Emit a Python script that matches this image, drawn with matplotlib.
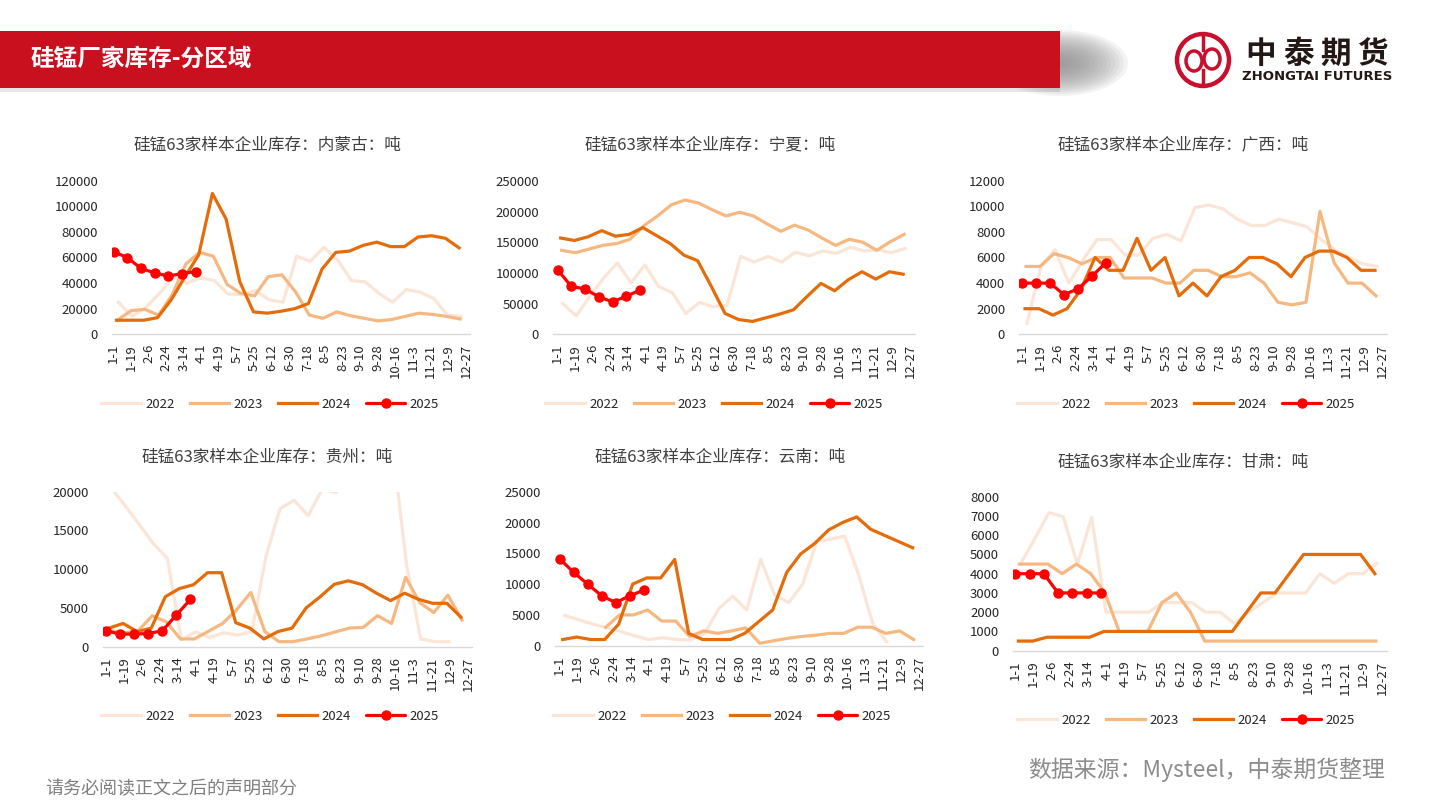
import numpy as np
import matplotlib
matplotlib.use('Agg')
import matplotlib.pyplot as plt
from matplotlib.patches import Rectangle, Ellipse, Circle
from matplotlib.lines import Line2D

plt.rcParams['font.family'] = ['Noto Sans CJK SC', 'DejaVu Sans']

W, H = 1440, 810
nan = np.nan

# ---------------- data ----------------
tick_labels = ['1-1', '1-19', '2-6', '2-24', '3-14', '4-1', '4-19', '5-7', '5-25', '6-12',
               '6-30', '7-18', '8-5', '8-23', '9-10', '9-28', '10-16', '11-3', '11-21',
               '12-9', '12-27']
tick_days = [18 * i for i in range(len(tick_labels))]   # day of year offset of each label

years = ['2022', '2023', '2024', '2025']
start_day = {'2022': 5, '2023': 4, '2024': 3, '2025': 0}  # first sample day of each year
step_days = 14                                            # biweekly samples

nmg_2022 = [25000, 14000, 21000, 32000, 45000, 40000, 44000, 42000, 31500, 31000, 34000, 27000, 25000,
            61000, 57000, 68000, 58000, 42000, 41000, 32000, 25000, 35000, 33000, 28000, 15000, 14000]
nmg_2023 = [11000, 18500, 19500, 15000, 31000, 55000, 64000, 61000, 39000, 32000, 30000, 45000, 46500,
            33000, 15000, 12500, 17500, 14500, 12500, 10500, 11500, 14000, 16500, 15500, 14000, 12000]
nmg_2024 = [11000, 11000, 11000, 13000, 27000, 45000, 62000, 110000, 90000, 41000, 17500, 16500, 18000,
            20000, 24000, 51000, 64000, 65000, 69500, 72000, 68500, 68500, 76000, 77000, 75000, 67500]
nmg_2025 = [64500, 60000, 51500, 48000, 45500, 47500, 49000]

nx_2022 = [50000, 30000, 62000, 92000, 116000, 84000, 113000, 78000, 68000, 34000, 52000, 45000, 47000,
           127000, 118000, 127000, 118000, 134000, 128000, 136000, 132000, 142000, 136000, 138000, 133000, 140000]
nx_2023 = [137000, 133000, 139000, 145000, 148000, 155000, 177000, 193000, 211000, 219000, 214000, 203000, 193000,
           199000, 193000, 180000, 168000, 178000, 170000, 157000, 145000, 155000, 150000, 137000, 151000, 163000]
nx_2024 = [157000, 153000, 159000, 169000, 160000, 163000, 174000, 161000, 148000, 129000, 120000, 78000, 34000,
           24000, 21000, 27000, 33000, 40000, 62000, 83000, 71000, 89000, 102000, 90000, 102000, 98000]
nx_2025 = [105000, 78000, 74000, 61000, 53000, 62000, 72000]

gx_2022 = [850, 5300, 6600, 4000, 5800, 7400, 7400, 6200, 6200, 7500, 7800, 7300, 9900,
           10100, 9800, 9000, 8500, 8500, 9000, 8700, 8400, 7400, 6600, 6000, 5500, 5300]
gx_2023 = [5300, 5300, 6300, 6000, 5500, 6000, 6000, 4400, 4400, 4400, 4000, 4000, 5000,
           5000, 4500, 4500, 4800, 4000, 2500, 2300, 2500, 9600, 5600, 4000, 4000, 3000]
gx_2024 = [2000, 2000, 1500, 2000, 3500, 6000, 5000, 5000, 7500, 5000, 6000, 3000, 4000,
           3000, 4500, 5000, 6000, 6000, 5500, 4500, 6000, 6500, 6500, 6000, 5000, 5000]
gx_2025 = [4000, 4000, 4000, 3100, 3550, 4550, 5600]

gz_2022 = [20500, 18200, 15800, 13300, 11400, 900, 1900, 1200, 1800, 1500, 1950, 11600, 17800,
           18900, 16900, 20300, 19900, 25000, 27000, 26000, 25700, 10500, 1000, 650, 650, nan]
gz_2023 = [2050, 1800, 2050, 4000, 3200, 1000, 1000, 2000, 3000, 4800, 7000, 1950, 650,
           650, 1000, 1400, 1900, 2400, 2500, 4000, 3000, 8950, 5700, 4400, 6650, 3450]
gz_2024 = [2400, 3000, 1950, 2400, 6450, 7500, 8000, 9550, 9550, 3100, 2400, 1000, 1950,
           2400, 5000, 6450, 8050, 8500, 8000, 6900, 5950, 6900, 6100, 5600, 5600, 3800]
gz_2025 = [2050, 1630, 1630, 1700, 2050, 4100, 6100]

yn_2022 = [4900, 4200, 3500, 2900, 2300, 1600, 1000, 1300, 1000, 920, 2000, 6000, 8060,
           5800, 14000, 8200, 7000, 10000, 16900, 17300, 17800, 11500, 3600, 650, nan, nan]
yn_2023 = [nan, nan, nan, 3000, 5000, 5000, 5800, 4000, 4000, 1500, 2400, 2000, 2400,
           2900, 400, 800, 1200, 1500, 1700, 2000, 2000, 3000, 3000, 2000, 2400, 1000]
yn_2024 = [1000, 1400, 1000, 1000, 3500, 10000, 11000, 11000, 14000, 2000, 1000, 1000, 1000,
           2000, 3900, 5800, 11900, 14900, 16600, 18800, 20000, 20900, 18900, 17900, 16900, 15900]
yn_2025 = [14100, 11900, 10000, 8100, 7000, 8100, 9000]

gs_2022 = [4500, 5800, 7170, 6960, 4500, 6930, 2000, 2000, 2000, 2000, 2500, 2500, 2500,
           2000, 2000, 1420, 2000, 2500, 3000, 3000, 3000, 4000, 3500, 4000, 4000, 4540]
gs_2023 = [4500, 4500, 4500, 4000, 4500, 4000, 3000, 1000, 1000, 1000, 2500, 3000, 2000,
           500, 500, 500, 500, 500, 500, 500, 500, 500, 500, 500, 500, 500]
gs_2024 = [500, 500, 700, 700, 700, 700, 1000, 1000, 1000, 1000, 1000, 1000, 1000,
           1000, 1000, 1000, 2000, 3000, 3000, 4000, 5000, 5000, 5000, 5000, 5000, 4000]
gs_2025 = [4000, 4000, 4000, 3000, 3000, 3000, 3000]

titles = ['硅锰63家样本企业库存：内蒙古：吨', '硅锰63家样本企业库存：宁夏：吨', '硅锰63家样本企业库存：广西：吨',
          '硅锰63家样本企业库存：贵州：吨', '硅锰63家样本企业库存：云南：吨', '硅锰63家样本企业库存：甘肃：吨']
region_data = [
    [nmg_2022, nmg_2023, nmg_2024, nmg_2025],
    [nx_2022, nx_2023, nx_2024, nx_2025],
    [gx_2022, gx_2023, gx_2024, gx_2025],
    [gz_2022, gz_2023, gz_2024, gz_2025],
    [yn_2022, yn_2023, yn_2024, yn_2025],
    [gs_2022, gs_2023, gs_2024, gs_2025],
]
y_max = [120000, 250000, 12000, 20000, 25000, 8000]
y_step = [20000, 50000, 2000, 5000, 5000, 1000]

# ---------------- styles / layout (pixels) ----------------
colors = {'2022': '#FBE5D6', '2023': '#F6B880', '2024': '#E46C0A', '2025': '#FF0000'}
# (axis left, axis right, x of 1-1, x of 12-27, y of 0, y of max, title cx, title cy, legend cx, legend cy)
geo = [
    (112, 470, 113.5, 466, 334.3, 180.7, 267, 145, 270, 404),
    (553, 915, 557.7, 910, 334.3, 181.0, 710, 145, 714, 404),
    (1019, 1387, 1022, 1382, 334.3, 180.7, 1183, 145, 1186, 404),
    (103, 472, 106, 468, 646.7, 491.7, 267, 457, 270, 716),
    (555, 923, 559.7, 919.7, 645.7, 491.7, 720, 457, 722, 716),
    (1013, 1387, 1015.3, 1382, 650.7, 496.7, 1183, 462, 1186, 720),
]

fig = plt.figure(figsize=(W / 100, H / 100), dpi=100)
fig.patch.set_facecolor('white')

# background overlay in pixel coordinates
bg = fig.add_axes([0, 0, 1, 1], zorder=-5)
bg.set_xlim(0, W)
bg.set_ylim(H, 0)
bg.axis('off')

# header shadow + band
bg.add_patch(Rectangle((0, 86), 1060, 6, color='#E6E6E6', lw=0))
for i in range(16):
    s = 1 - i / 16
    bg.add_patch(Ellipse((1060, 63), 136 * s, 66 * s, color='#8C8C8C', alpha=0.10, lw=0))
bg.add_patch(Rectangle((0, 31), 1060, 57, color='#C8101F', lw=0))
bg.text(30, 59, '硅锰厂家库存-分区域', color='white', fontsize=17, fontweight='bold',
        ha='left', va='center')

# logo
red = '#C8102E'
bg.add_patch(Circle((1203, 60), 26, fill=False, ec=red, lw=3.2))
bg.plot([1203, 1203], [35, 50], color=red, lw=2.5)
bg.plot([1203, 1203], [70, 85], color=red, lw=2.5)
bg.add_patch(Ellipse((1194, 61), 16, 20, fill=False, ec=red, lw=2.5))
bg.add_patch(Ellipse((1212, 59), 16, 20, fill=False, ec=red, lw=2.5))
for ch, cx in zip('中泰期货', [1261, 1298, 1336, 1373]):
    bg.text(cx, 54, ch, color='#231815', fontsize=22, fontweight='bold', ha='center', va='center')
bg.text(1317, 77, 'ZHONGTAI FUTURES', color='#231815', fontsize=9.5, fontweight='bold',
        ha='center', va='center', family='DejaVu Sans')

# footer
bg.text(45, 789, '请务必阅读正文之后的声明部分', color='#7F7F7F', fontsize=13, ha='left', va='center')
bg.text(1385, 770, '数据来源：Mysteel，中泰期货整理', color='#8C8C8C', fontsize=16.5, ha='right', va='center')

for k in range(6):
    L, R, x11, x1227, y0, yt, tcx, tcy, lcx, lcy = geo[k]
    ax = fig.add_axes([L / W, 1 - y0 / H, (R - L) / W, (y0 - yt) / H])
    ppd = (x1227 - x11) / 360.0
    ax.set_xlim((L - x11) / ppd, (R - x11) / ppd)
    ax.set_ylim(0, y_max[k])
    ax.patch.set_alpha(0)
    handles = []
    for j, yr in enumerate(years):
        vals = region_data[k][j]
        days = [start_day[yr] + step_days * i for i in range(len(vals))]
        if yr == '2025':
            h, = ax.plot(days, vals, color=colors[yr], lw=2.3, marker='o', markersize=6.5,
                         zorder=5, solid_capstyle='round')
        else:
            h, = ax.plot(days, vals, color=colors[yr], lw=2.3, zorder=2 + j)
        handles.append(h)
    ax.set_xticks(tick_days)
    ax.set_xticklabels(tick_labels, rotation=90, fontsize=9.5, color='#262626')
    yt_vals = list(range(0, y_max[k] + 1, y_step[k]))
    ax.set_yticks(yt_vals)
    ax.set_yticklabels([str(v) for v in yt_vals], fontsize=9.5, color='#262626')
    ax.tick_params(axis='both', length=0)
    ax.tick_params(axis='y', pad=10)
    ax.tick_params(axis='x', pad=7)
    for s in ['top', 'right', 'left']:
        ax.spines[s].set_visible(False)
    ax.spines['bottom'].set_color('#D9D9D9')
    ax.spines['bottom'].set_linewidth(1.0)
    fig.text(tcx / W, 1 - tcy / H, titles[k], ha='center', va='center', fontsize=12, color='#404040')
    fig.legend(handles, years, loc='center', bbox_to_anchor=(lcx / W, 1 - lcy / H), ncol=4,
               frameon=False, fontsize=9.5, handlelength=3.0, handletextpad=0.3, columnspacing=1.15,
               labelcolor='#262626')

fig.savefig('out.png', dpi=100)
